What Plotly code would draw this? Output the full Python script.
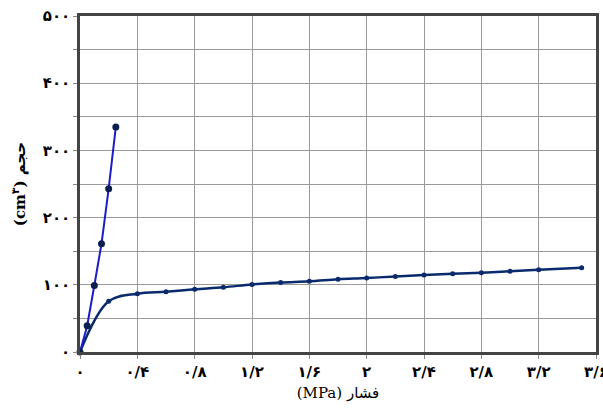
import plotly.graph_objects as go

# Data
steep_x = [0, 0.05, 0.1, 0.15, 0.2, 0.25]
steep_y = [0, 39, 99, 161, 243, 335]

flat_x = [0, 0.2, 0.4, 0.6, 0.8, 1.0, 1.2, 1.4, 1.6, 1.8, 2.0, 2.2, 2.4, 2.6, 2.8, 3.0, 3.2, 3.5]
flat_y = [0, 75.5, 86.8, 89.7, 93.3, 96.3, 100.5, 103.5, 105.2, 108.2, 110, 112.5, 114.6, 116.5, 118, 120, 122.5, 125.5]

x_tickvals = [0, 0.4, 0.8, 1.2, 1.6, 2.0, 2.4, 2.8, 3.2, 3.6]
x_ticktext = ["۰", "۰/۴", "۰/۸", "۱/۲", "۱/۶", "۲", "۲/۴", "۲/۸", "۳/۲", "۳/۶"]
y_tickvals = [0, 100, 200, 300, 400, 500]
y_ticktext = ["۰", "۱۰۰", "۲۰۰", "۳۰۰", "۴۰۰", "۵۰۰"]
y_minor_vals = [50, 150, 250, 350, 450]

x_title = "(MPa) فشار"
y_title = "(cm<sup>۳</sup>) حجم"

fig = go.Figure()
fig.add_trace(go.Scatter(
    x=flat_x, y=flat_y, mode="lines+markers",
    line=dict(color="#0a2a6e", width=2.5, shape="spline", smoothing=1.0),
    marker=dict(color="#0a2a6e", size=5, symbol="circle"),
    showlegend=False, cliponaxis=False))
fig.add_trace(go.Scatter(
    x=steep_x, y=steep_y, mode="lines+markers",
    line=dict(color="#1c1cc8", width=2),
    marker=dict(color="#0b1f4f", size=7, symbol="circle"),
    showlegend=False, cliponaxis=False))

font_family = "DejaVu Serif, DejaVu Sans"
tick_font = dict(size=15, family=font_family, color="black", weight="bold")
fig.update_layout(
    width=603, height=409,
    margin=dict(l=80, r=7, t=16, b=57, autoexpand=False),
    plot_bgcolor="white", paper_bgcolor="white",
    font=dict(family=font_family, color="black", size=14),
    xaxis=dict(
        range=[0, 3.6], tickmode="array", tickvals=x_tickvals, ticktext=x_ticktext,
        ticklabeloverflow="allow", automargin=False,
        showgrid=True, gridcolor="#9a9a9a", gridwidth=1,
        showline=True, linecolor="#444", linewidth=2.5, mirror=True,
        ticks="outside", ticklen=4, tickcolor="#888",
        tickfont=tick_font,
        title=dict(text=x_title, font=dict(size=15, family=font_family), standoff=8),
        zeroline=False),
    yaxis=dict(
        range=[0, 500], tickmode="array", tickvals=y_tickvals, ticktext=y_ticktext,
        automargin=False,
        showgrid=True, gridcolor="#9a9a9a", gridwidth=1,
        minor=dict(tickmode="array", tickvals=y_minor_vals, showgrid=True,
                   gridcolor="#9a9a9a", gridwidth=1, ticks="outside", ticklen=4, tickcolor="#888"),
        showline=True, linecolor="#444", linewidth=2.5, mirror=True,
        ticks="outside", ticklen=4, tickcolor="#888",
        tickfont=tick_font,
        title=dict(text=y_title, font=dict(size=15, family=font_family, weight="bold"), standoff=14),
        zeroline=False),
)

fig.write_html("out.html")
